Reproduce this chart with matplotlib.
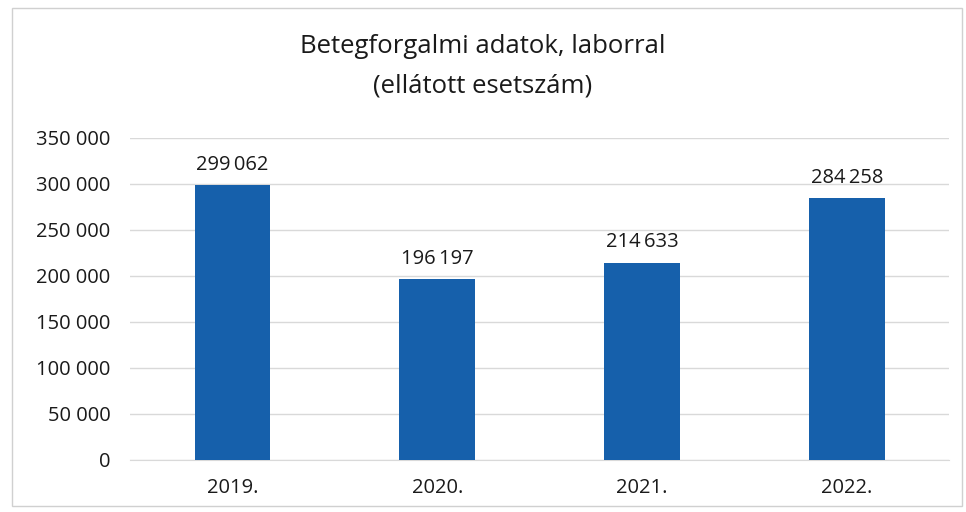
import matplotlib
matplotlib.use("Agg")
import matplotlib.pyplot as plt
from matplotlib.patches import Rectangle
from matplotlib.ticker import FuncFormatter

years = ["2019.", "2020.", "2021.", "2022."]
cases = [299062, 196197, 214633, 284258]
yticks = [0, 50000, 100000, 150000, 200000, 250000, 300000, 350000]

plt.rcParams["font.family"] = ["Open Sans", "DejaVu Sans"]
TXT = "#1a1a1a"

def fmt(v, pos=None):
    return f"{int(v):,}".replace(",", " ")

fig = plt.figure(figsize=(9.66, 5.12), dpi=100, facecolor="white")
ax = fig.add_axes([0.1346, 0.1016, 0.848, 0.6289])
ax.bar(range(len(years)), cases, width=0.37, color="#1660ab", zorder=3)
for i, v in enumerate(cases):
    ax.text(i, v + 11000, fmt(v).replace(" ", "\u2009"), ha="center", va="bottom",
            fontsize=14.5, color=TXT)

ax.set_ylim(0, 350000)
ax.set_xlim(-0.5, len(years) - 0.5)
ax.set_yticks(yticks)
ax.yaxis.set_major_formatter(FuncFormatter(fmt))
ax.set_xticks(range(len(years)))
ax.set_xticklabels(years)
ax.tick_params(axis="both", length=0, labelsize=14.5, colors=TXT)
ax.tick_params(axis="y", pad=14)
ax.tick_params(axis="x", pad=13)
ax.grid(axis="y", color="#d9d9d9", linewidth=1, zorder=0)
for s in ["top", "right", "left"]:
    ax.spines[s].set_visible(False)
ax.spines["bottom"].set_color("#d9d9d9")

fig.text(0.5, 0.91, "Betegforgalmi adatok, laborral", ha="center", va="center", fontsize=18.5, color=TXT)
fig.text(0.5, 0.833, "(ellátott esetszám)", ha="center", va="center", fontsize=18.5, color=TXT)

fig.patches.append(Rectangle((0.012, 0.012), 0.984, 0.972, transform=fig.transFigure,
                             fill=False, edgecolor="#d0d0d0", linewidth=1))

plt.savefig("out.png", dpi=100, facecolor="white")
